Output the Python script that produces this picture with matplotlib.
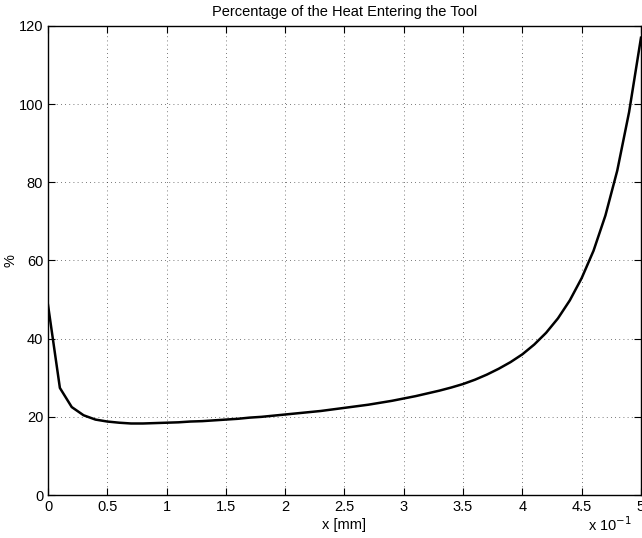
import numpy as np
import matplotlib.pyplot as plt
from matplotlib.ticker import FuncFormatter

plt.rcParams['font.family'] = ['Liberation Sans', 'DejaVu Sans']

# position along the tool in mm, one point every 0.01 mm
x_mm = np.arange(51) * 0.01
heat_pct = [48.6, 27.4, 22.5, 20.4, 19.3, 18.8, 18.5, 18.3, 18.3, 18.4,
            18.5, 18.6, 18.8, 18.9, 19.1, 19.3, 19.5, 19.8, 20.0, 20.3,
            20.6, 20.9, 21.2, 21.5, 21.9, 22.3, 22.7, 23.1, 23.6, 24.1,
            24.7, 25.3, 26.0, 26.7, 27.5, 28.4, 29.5, 30.8, 32.3, 34.0,
            36.0, 38.5, 41.5, 45.2, 49.8, 55.5, 62.5, 71.5, 83.0, 98.0,
            117.0]

fig = plt.figure(figsize=(6.42, 5.38), dpi=100)
ax = fig.add_axes([0.0748, 0.0799, 0.9236, 0.8718])

ax.plot(x_mm, heat_pct, color='black', linewidth=1.8)

ax.set_xlim(0, 0.5)
ax.set_ylim(0, 120)
ax.set_xticks(np.arange(0, 0.51, 0.05))
ax.set_yticks(np.arange(0, 121, 20))
ax.xaxis.set_major_formatter(FuncFormatter(lambda v, p: '%g' % round(v * 10, 2)))

ax.grid(True, linestyle=(0, (1, 4)), color='black', linewidth=0.6, alpha=0.7)
ax.tick_params(direction='in', top=True, right=True, length=5, labelsize=10.5)
for s in ax.spines.values():
    s.set_linewidth(1.0)

ax.set_title('Percentage of the Heat Entering the Tool', fontsize=10.5, pad=7)
ax.set_xlabel('x [mm]', fontsize=10.5, labelpad=3)
ax.set_ylabel('%', fontsize=10.5, labelpad=1)
fig.text(0.985, 0.008, r'x 10$^{-1}$', ha='right', va='bottom', fontsize=10.5)

fig.savefig('out.png', dpi=100)
